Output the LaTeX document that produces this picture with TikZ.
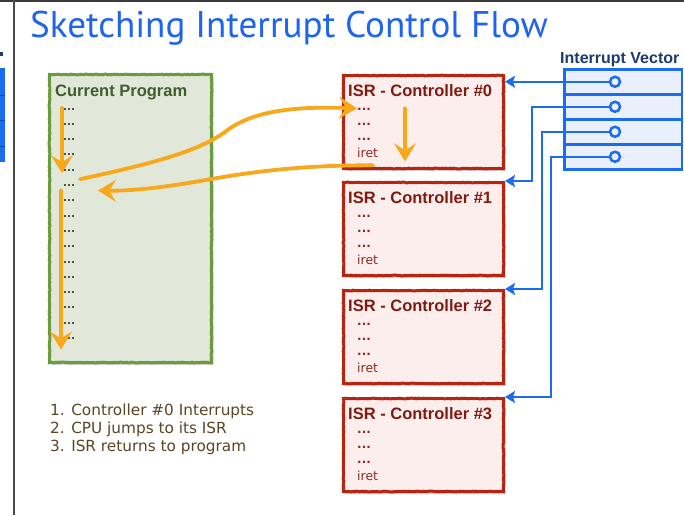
\documentclass[tikz,border=0pt]{standalone}
\usepackage{fontspec}
\setmainfont{DejaVu Sans}
\newfontfamily\titlefont{PT Sans}
\newfontfamily\headfont{Liberation Sans}
\usetikzlibrary{arrows.meta,shadows,decorations.pathmorphing,calc}

\definecolor{titleblue}{HTML}{1E64EE}
\definecolor{progfill}{HTML}{E1E8DA}
\definecolor{progedge}{HTML}{6A9B3C}
\definecolor{proghead}{HTML}{3F5E2C}
\definecolor{progdots}{HTML}{3C4A36}
\definecolor{isrfill}{HTML}{FCEEEC}
\definecolor{isredge}{HTML}{B62412}
\definecolor{isrhead}{HTML}{7E1C12}
\definecolor{isrtext}{HTML}{8A2C22}
\definecolor{vecfill}{HTML}{E9EFFB}
\definecolor{vecblue}{HTML}{1A6CF0}
\definecolor{vechead}{HTML}{1E3A6E}
\definecolor{flow}{HTML}{F7A81B}
\definecolor{steptext}{HTML}{5C4424}
\definecolor{framegray}{HTML}{4A4A4A}

\tikzset{
  sketchy/.style={decorate, decoration={random steps, segment length=1.6pt, amplitude=0.35pt}},
  softshadow/.style={drop shadow={opacity=0.35, shadow xshift=2pt, shadow yshift=-2.5pt}},
  progbox/.style={draw=progedge, fill=progfill, line width=3pt, sketchy, softshadow,
    minimum width=162pt, minimum height=288pt, inner sep=0pt},
  isrbox/.style={draw=isredge, fill=isrfill, line width=3pt, sketchy, softshadow,
    minimum width=160pt, minimum height=93pt, inner sep=0pt},
  vecrow/.style={draw=vecblue, fill=vecfill, line width=2.5pt,
    minimum width=117.5pt, minimum height=25pt, inner sep=0pt},
  port/.style={circle, draw=vecblue, fill=vecfill, line width=2.5pt,
    minimum size=10pt, inner sep=0pt},
  boxhead/.style={font=\headfont\bfseries\fontsize{16.5}{18}\selectfont, inner sep=0pt},
  codeline/.style={font=\fontsize{12.5}{14}\selectfont, text=isrtext, inner sep=0pt},
  codedots/.style={font=\bfseries\fontsize{12}{14}\selectfont, text=isrtext, inner sep=0pt},
  progline/.style={font=\bfseries\fontsize{10.5}{12}\selectfont, text=progdots, inner sep=0pt},
  steptxt/.style={font=\fontsize{15.3}{18}\selectfont, text=steptext, inner sep=0pt},
  flowline/.style={draw=flow, line width=3.8pt, line cap=round,
    -{Stealth[length=18pt, width=22pt, inset=7pt]}},
  vecline/.style={draw=vecblue, line width=2.5pt,
    -{Stealth[length=10pt, width=12pt, inset=2pt]}},
}

\begin{document}
\begin{tikzpicture}[x=1pt, y=-1pt]
\clip (0,0) rectangle (684,515);
\fill[white] (0,0) rectangle (684,515);

% frame of the slide
\draw[framegray!80!black, line width=2pt] (0,1) -- (684,1);
\draw[framegray, line width=2.5pt] (14,0) -- (14,515);

% edge of the neighbouring slide
\fill[vechead] (0,52) rectangle (3,56);
\fill[vecblue] (-20,68) rectangle (5,162);
\foreach \yy in {95,120,146} \draw[vecblue!70!black, line width=1pt] (-20,\yy) -- (5,\yy);

% title
\node[font=\titlefont\fontsize{37.1}{40}\selectfont, text=titleblue, anchor=base west, inner sep=0pt]
  (title) at (30,37) {Sketching Interrupt Control Flow};

% current program
\node[progbox, anchor=north west] (prog) at (48,73) {};
\node[boxhead, text=proghead, anchor=base west] (proghd) at (55,96) {Current Program};
\foreach \k in {0,...,15} {
  \node[progline, anchor=base west] (d\k) at (63,{110+15.3*\k}) {...};
}

% interrupt service routines
\foreach \i/\t in {0/74,1/181,2/289,3/397} {
  \node[isrbox, anchor=north west] (isr\i) at (342,\t) {};
  \node[boxhead, text=isrhead, anchor=base west] (isr\i-hd) at (348,\t+22) {ISR - Controller \#\i};
  \node[codedots, anchor=base west] (isr\i-a) at (357,\t+36.5) {...};
  \node[codedots, anchor=base west] (isr\i-b) at (357,\t+51.5) {...};
  \node[codedots, anchor=base west] (isr\i-c) at (357,\t+66.5) {...};
  \node[codeline, anchor=base west] (isr\i-r) at (357,\t+83) {iret};
}

% interrupt vector table
\node[font=\headfont\bfseries\fontsize{16}{18}\selectfont, text=vechead, anchor=base west, inner sep=0pt]
  (vechd) at (560,63) {Interrupt Vector};
\foreach \i in {0,...,3} {
  \node[vecrow, anchor=north west] (v\i) at (563,{68+25*\i}) {};
}
\foreach \i in {0,...,3} {
  \node[port] (c\i) at ([xshift=52pt]v\i.west) {};
}

% vector entries point to their routines
\coordinate (j1) at (532,0);
\coordinate (j2) at (542,0);
\coordinate (j3) at (551,0);
\draw[vecline] (c0.west) -- (c0.west -| isr0.east);
\draw[vecline] (c1.west) -| (j1 |- isr1.north east) -- (isr1.north east);
\draw[vecline] (c2.west) -| (j2 |- isr2.north east) -- (isr2.north east);
\draw[vecline] (c3.west) -| (j3 |- isr3.north east) -- (isr3.north east);

% control flow (offsets in picture units, y grows downwards)
\draw[flowline] ($(d0.west)+(-1,-1)$) -- ($(d4.west)+(-1,3)$);
\draw[flowline] ($(d5.west)+(-2,5)$) -- ($(d15.west)+(-2,11)$);
\draw[flowline] ($(isr0-a.west)+(48,-1)$) -- ($(isr0-c.west)+(48,22)$);
\draw[flowline] ($(d4.west)+(17,9)$)
  .. controls (160,162) and (200,150) .. (225,132)
  .. controls (250,112) and (290,106) .. ($(isr0-a.west)+(0,-1)$);
\draw[flowline] ($(isr0-r.west)+(16,13)$)
  .. controls (300,165) and (250,172) .. (200,181)
  .. controls (160,188) and (130,191) .. ($(d5.west)+(35,5)$);

% steps
\node[steptxt, anchor=base west] (s1) at (50,415) {1. Controller \#0 Interrupts};
\node[steptxt, anchor=base west] (s2) at (50,433) {2. CPU jumps to its ISR};
\node[steptxt, anchor=base west] (s3) at (50,451) {3. ISR returns to program};
\end{tikzpicture}
\end{document}
